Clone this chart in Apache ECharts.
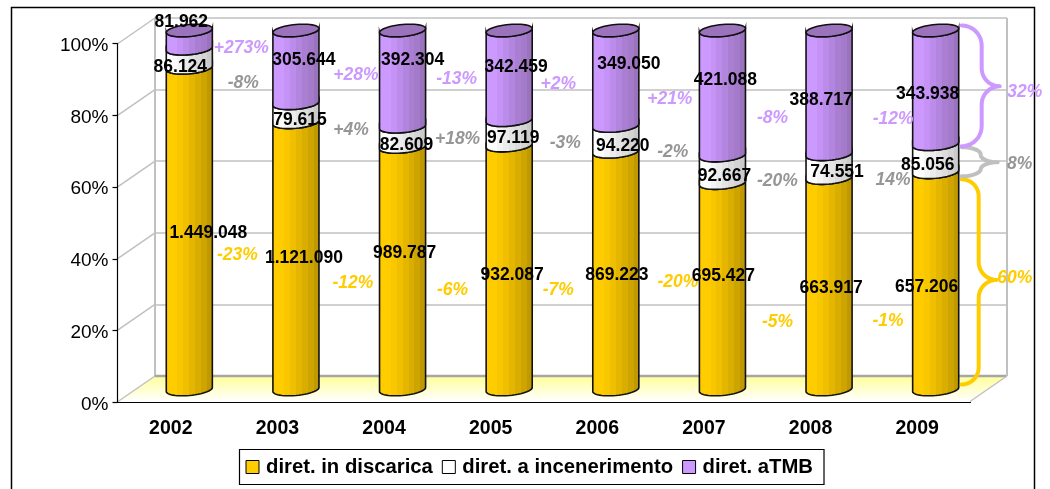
<!DOCTYPE html>
<html>
<head>
<meta charset="utf-8">
<script src="https://cdn.jsdelivr.net/npm/echarts@6/dist/echarts.min.js"></script>
<style>
html, body { margin: 0; padding: 0; background: #fff; overflow: hidden; }
#main { width: 1050px; height: 489px; }
</style>
</head>
<body>
<div id="main"></div>
<script>
// dati
var years = ['2002', '2003', '2004', '2005', '2006', '2007', '2008', '2009'];
var discarica = [1449048, 1121090, 989787, 932087, 869223, 695427, 663917, 657206];
var incenerimento = [86124, 79615, 82609, 97119, 94220, 92667, 74551, 85056];
var atmb = [81962, 305644, 392304, 342459, 349050, 421088, 388717, 343938];

// variazioni anno su anno (scritte tra una barra e la successiva)
var growthDiscarica = ['-23%', '-12%', '-6%', '-7%', '-20%', '-5%', '-1%'];
var growthIncenerimento = ['-8%', '+4%', '+18%', '-3%', '-2%', '-20%', '14%'];
var growthAtmb = ['+273%', '+28%', '-13%', '+2%', '+21%', '-8%', '-12%'];
var shareLabels2009 = ['60%', '8%', '32%'];
var percentTicks = [0, 20, 40, 60, 80, 100];

// spostamenti delle etichette rispetto al centro del segmento [dx, dy]
var valueOffsets = [
    [[19, 3], [8, 1], [2, -17], [3, 6], [1, 3], [1, -12], [2, 3], [-9, 5]],
    [[-9, 7], [4, 6], [4, 7], [4, 4], [7, 6], [2, 5], [8, 4], [-8, 5]],
    [[-8, -19], [8, -8], [10, -20], [7, -10], [13, -16], [3, -14], [-8, 6], [-8, 5]]
];
var growthOffsets = [
    [[48, 25], [57, 26], [50, 20], [49, 21], [62, 10], [55, 34], [59, 36]],
    [[54, 23], [55, 16], [55, 1], [56, 9], [57, 12], [55, 10], [64, 12]],
    [[52, 7], [60, 7], [54, -1], [49, 7], [54, 19], [50, 24], [64, 25]]
];
// graffe a destra del 2009: topDy, bottomDy, tipDy, xMid, xTip, labelDx, labelDy
var braceLayout = [
    [7, -5, -1, 43, 61, 79, -4],
    [3, 4, 4, 45, 62, 84, 4],
    [-5, 2, -1, 46, 64, 89, 3]
];

var font = '"Liberation Sans", Arial, sans-serif';
var colors = ['#ffcc00', '#ffffff', '#cc99ff'];
var growthColors = ['#ffcc00', '#969696', '#cc99ff'];
var bands = [
    ['#ffcc00', '#ffcc00', '#f8c700', '#f0c000', '#e4b600', '#d9ae00', '#cea500', '#c09900'],
    ['#ffffff', '#fcfcfc', '#f4f4f4', '#ececec', '#e4e4e4', '#dcdcdc', '#d4d4d4', '#cacaca'],
    ['#cc99ff', '#cc99ff', '#c593f6', '#bc8cea', '#b285de', '#aa7fd2', '#a47aca', '#9b73bd']
];
var seriesValues = [discarica, incenerimento, atmb];
var seriesNames = ['diret. in discarica', 'diret. a incenerimento', 'diret. aTMB'];

// share percentuali impilate [i, da, a]
var stacked = [[], [], []];
for (let i = 0; i < years.length; i++) {
    let total = discarica[i] + incenerimento[i] + atmb[i];
    let low = 0;
    for (let s = 0; s < 3; s++) {
        let high = low + seriesValues[s][i] / total * 100;
        stacked[s].push([i, low, high]);
        low = high;
    }
}

function formatValue(v) {
    return String(v).replace(/\B(?=(\d{3})+$)/g, '.');
}

function bandFill(list) {
    let stops = [];
    for (let i = 0; i < list.length; i++) {
        stops.push({ offset: i / list.length, color: list[i] });
        stops.push({ offset: (i + 1) / list.length, color: list[i] });
    }
    return { type: 'linear', x: 0, y: 0, x2: 1, y2: 0, colorStops: stops };
}

// punto sull'ellisse della sezione (leggermente inclinata)
function ellipsePoint(cx, cy, rx, t) {
    return [cx + rx * Math.cos(t), cy + 6 * Math.sin(t) - 2 * Math.cos(t)];
}

function cylinderItem(s) {
    return function (params, api) {
        let i = api.value(0);
        let low = api.coord([i, api.value(1)]);
        let high = api.coord([i, api.value(2)]);
        let rx = api.size([1, 0])[0] * 0.216;
        let pts = [];
        for (let k = 0; k <= 24; k++) {
            pts.push(ellipsePoint(low[0], low[1], rx, Math.PI - Math.PI * k / 24));
        }
        for (let k = 24; k >= 0; k--) {
            pts.push(ellipsePoint(high[0], high[1], rx, Math.PI - Math.PI * k / 24));
        }
        let children = [{
            type: 'polygon',
            shape: { points: pts },
            style: { fill: bandFill(bands[s]), stroke: '#111', lineWidth: 1.6 }
        }];
        if (s === 2) {
            let cap = [];
            for (let k = 0; k < 48; k++) {
                cap.push(ellipsePoint(high[0], high[1], rx, Math.PI * 2 * k / 48));
            }
            children.push({
                type: 'polygon',
                shape: { points: cap },
                style: { fill: '#9b73bd', stroke: '#111', lineWidth: 1.6 }
            });
        }
        return { type: 'group', children: children };
    };
}

function labelItem(s) {
    return function (params, api) {
        let i = api.value(0);
        let mid = api.coord([i, (api.value(1) + api.value(2)) / 2]);
        let children = [{
            type: 'text',
            style: {
                text: formatValue(seriesValues[s][i]),
                x: mid[0] + valueOffsets[s][i][0],
                y: mid[1] + valueOffsets[s][i][1] + 1.5,
                fill: '#000',
                font: 'bold 17.5px ' + font,
                align: 'center',
                verticalAlign: 'middle'
            }
        }];
        let growth = [growthDiscarica, growthIncenerimento, growthAtmb][s];
        if (i < growth.length) {
            children.push({
                type: 'text',
                style: {
                    text: growth[i],
                    x: mid[0] + growthOffsets[s][i][0],
                    y: mid[1] + growthOffsets[s][i][1] + 1.5,
                    fill: growthColors[s],
                    font: 'italic bold 17.5px ' + font,
                    align: 'center',
                    verticalAlign: 'middle'
                }
            });
        }
        return { type: 'group', children: children };
    };
}

function arcPoints(cx, cy, rx, ry, a0, a1) {
    let out = [];
    for (let k = 0; k <= 10; k++) {
        let t = a0 + (a1 - a0) * k / 10;
        out.push([cx + rx * Math.cos(t), cy + ry * Math.sin(t)]);
    }
    return out;
}

// graffa per il segmento 2009
function braceItem(s) {
    return function (params, api) {
        let i = api.value(0);
        let b = braceLayout[s];
        let top = api.coord([i, api.value(2)]);
        let bottom = api.coord([i, api.value(1)]);
        let mid = api.coord([i, (api.value(1) + api.value(2)) / 2]);
        let cx = top[0];
        let y0 = top[1] + b[0], y1 = bottom[1] + b[1], yt = mid[1] + b[2];
        let x0 = cx + 26, xm = cx + b[3], xt = cx + b[4];
        let r = xm - x0;
        let rt = xt - xm;
        let ry = Math.min(r, (y1 - y0) / 4);
        let rty = Math.min(rt, (y1 - y0) / 4);
        let pts = [].concat(
            arcPoints(x0, y0 + ry, r, ry, -Math.PI / 2, 0),
            arcPoints(xt, yt - rty, rt, rty, Math.PI, Math.PI / 2),
            arcPoints(xt, yt + rty, rt, rty, -Math.PI / 2, -Math.PI),
            arcPoints(x0, y1 - ry, r, ry, 0, Math.PI / 2)
        );
        return {
            type: 'group',
            children: [{
                type: 'polyline',
                shape: { points: pts },
                style: { fill: 'none', stroke: s === 1 ? '#c0c0c0' : colors[s], lineWidth: 4, lineCap: 'round', lineJoin: 'round' }
            }, {
                type: 'text',
                style: {
                    text: shareLabels2009[s],
                    x: cx + b[5],
                    y: mid[1] + b[6] + 1.5,
                    fill: growthColors[s],
                    font: 'italic bold 17.5px ' + font,
                    align: 'center',
                    verticalAlign: 'middle'
                }
            }]
        };
    };
}

// pareti: pavimento e diagonali verso l'asse frontale
function wallItem(params, api) {
    let lvl = api.value(0);
    let left = api.coord([0, lvl]);
    let right = api.coord([1, lvl]);
    let dx = -37, dy = 25.5;
    let children = [{
        type: 'line',
        shape: { x1: left[0], y1: left[1], x2: left[0] + dx, y2: left[1] + dy },
        style: { stroke: '#c0c0c0', lineWidth: 1.5 }
    }];
    if (lvl === 0) {
        children.unshift({
            type: 'polygon',
            shape: { points: [left, right, [right[0] + dx, right[1] + dy], [left[0] + dx, left[1] + dy]] },
            style: {
                fill: { type: 'linear', x: 0, y: 0, x2: 0, y2: 1, colorStops: [{ offset: 0, color: '#ffff99' }, { offset: 1, color: '#ffffff' }] }
            }
        });
        children.push({
            type: 'line',
            shape: { x1: left[0], y1: left[1], x2: right[0], y2: right[1] },
            style: { stroke: '#a6a6a6', lineWidth: 2.5 }
        });
        children.push({
            type: 'line',
            shape: { x1: right[0], y1: right[1], x2: right[0] + dx, y2: right[1] + dy },
            style: { stroke: '#c0c0c0', lineWidth: 1.5 }
        });
        let topRight = api.coord([1, 100]);
        children.push({
            type: 'line',
            shape: { x1: right[0], y1: right[1], x2: topRight[0], y2: topRight[1] },
            style: { stroke: '#c0c0c0', lineWidth: 2 }
        });
    }
    return { type: 'group', children: children };
}

var series = [{
    type: 'custom',
    xAxisIndex: 1,
    yAxisIndex: 1,
    z: 1,
    silent: true,
    clip: false,
    data: percentTicks.map(function (v) { return [v]; }),
    encode: { y: 0 },
    renderItem: wallItem
}];
for (let s = 0; s < 3; s++) {
    series.push({
        name: seriesNames[s],
        type: 'custom',
        xAxisIndex: 2,
        yAxisIndex: 2,
        z: 3,
        clip: false,
        itemStyle: { color: colors[s] },
        data: stacked[s],
        encode: { x: 0, y: [1, 2] },
        renderItem: cylinderItem(s)
    });
}
for (let s = 0; s < 3; s++) {
    series.push({
        type: 'custom',
        xAxisIndex: 2,
        yAxisIndex: 2,
        z: 6,
        clip: false,
        data: stacked[s],
        encode: { x: 0, y: [1, 2] },
        renderItem: labelItem(s)
    });
    series.push({
        type: 'custom',
        xAxisIndex: 2,
        yAxisIndex: 2,
        z: 5,
        clip: false,
        data: [stacked[s][7]],
        encode: { x: 0, y: [1, 2] },
        renderItem: braceItem(s)
    });
}

var option = {
    animation: false,
    backgroundColor: '#fff',
    textStyle: { fontFamily: font },
    graphic: [{
        type: 'rect',
        z: -1,
        shape: { x: 11.5, y: 7.5, width: 1023, height: 520 },
        style: { fill: 'none', stroke: '#000', lineWidth: 1.5 }
    }],
    legend: {
        data: seriesNames,
        left: 239.5,
        top: 449.5,
        padding: [7.5, 11, 7.5, 6],
        itemGap: 9,
        itemWidth: 13,
        itemHeight: 13,
        icon: 'rect',
        itemStyle: { borderColor: '#000', borderWidth: 1 },
        backgroundColor: '#fff',
        borderColor: '#000',
        borderWidth: 1.2,
        selectedMode: false,
        textStyle: { color: '#000', fontFamily: font, fontWeight: 'bold', fontSize: 20.3, padding: [0, 0, 0, 2] }
    },
    grid: [
        { left: 117.5, top: 43.5, width: 853, height: 359 },
        { left: 155, top: 18, width: 852, height: 358 },
        { left: 136, top: 30.5, width: 853, height: 359 }
    ],
    xAxis: [{
        type: 'category',
        gridIndex: 0,
        data: years,
        z: 4,
        axisLine: { lineStyle: { color: '#000', width: 1.2 } },
        axisTick: { length: 6, lineStyle: { color: '#000', width: 1.2 } },
        axisLabel: { color: '#000', fontFamily: font, fontWeight: 'bold', fontSize: 19.5, margin: 16 }
    }, {
        type: 'value',
        gridIndex: 1,
        min: 0,
        max: 1,
        show: false
    }, {
        type: 'category',
        gridIndex: 2,
        data: years,
        show: false
    }],
    yAxis: [{
        type: 'value',
        gridIndex: 0,
        min: 0,
        max: 100,
        interval: 20,
        z: 4,
        splitLine: { show: false },
        axisLine: { show: true, lineStyle: { color: '#000', width: 1.2 } },
        axisTick: { show: true, length: 5, lineStyle: { color: '#000', width: 1.2 } },
        axisLabel: {
            margin: 9,
            formatter: '{t|{value}%}',
            rich: { t: { color: '#000', fontFamily: font, fontSize: 19, padding: [4, 0, 0, 0] } }
        }
    }, {
        type: 'value',
        gridIndex: 1,
        min: 0,
        max: 100,
        interval: 20,
        axisLabel: { show: false },
        axisTick: { show: false },
        axisLine: { show: true, lineStyle: { color: '#c0c0c0', width: 2 } },
        splitLine: { show: true, lineStyle: { color: '#c0c0c0', width: 1.5 } }
    }, {
        type: 'value',
        gridIndex: 2,
        min: 0,
        max: 100,
        show: false
    }],
    series: series
};

var myChart = echarts.init(document.getElementById('main'), null, { renderer: 'canvas' });
myChart.setOption(option);
</script>
</body>
</html>
